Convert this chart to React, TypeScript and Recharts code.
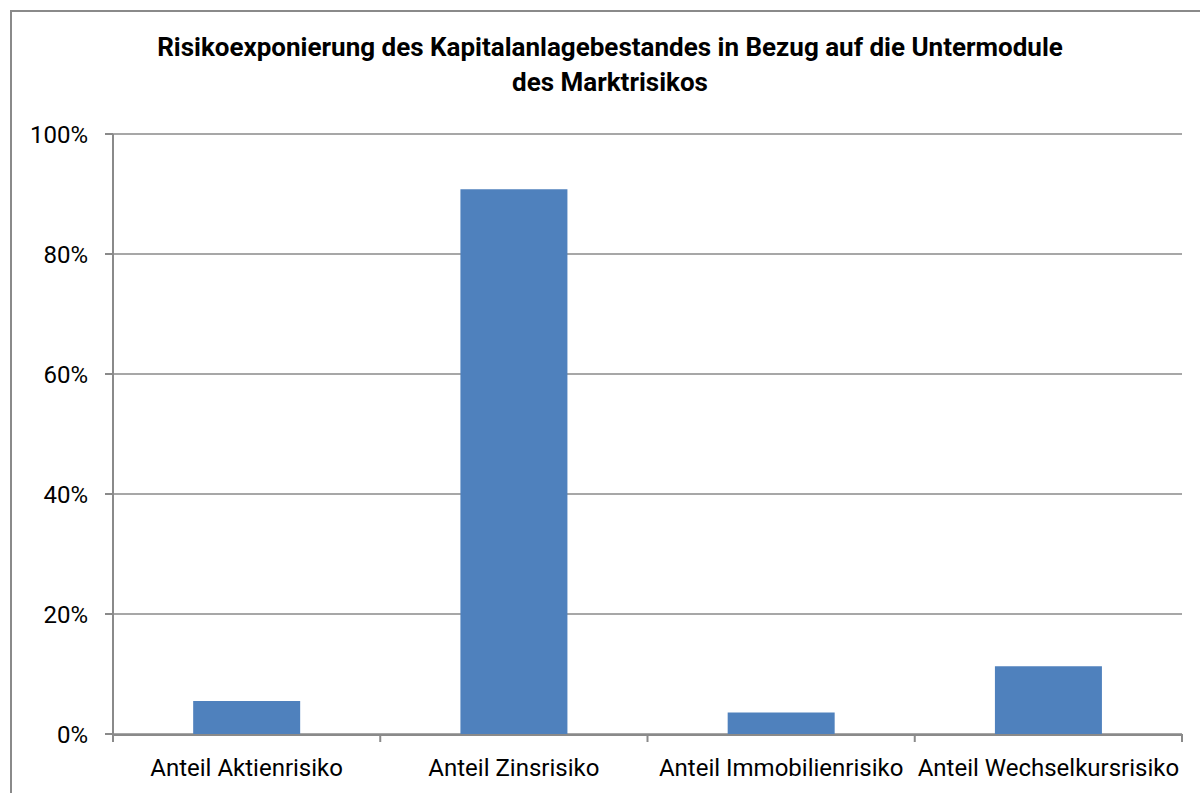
import { BarChart, Bar, XAxis, YAxis, CartesianGrid } from "recharts";

const categories = [
  "Anteil Aktienrisiko",
  "Anteil Zinsrisiko",
  "Anteil Immobilienrisiko",
  "Anteil Wechselkursrisiko",
];
const shares = [5.5, 90.8, 3.6, 11.3];
const yTicks = [0, 20, 40, 60, 80, 100];
const boundaryTicks = [0, 1, 2, 3, 4];

const FONT = "Roboto, 'Liberation Sans', sans-serif";
const GRAY = "#8a8a8a";
const BAR = "#4f81bd";

const data = categories.map((name, i) => ({ name, idx: i + 0.5, share: shares[i] }));

// category borders get a tick mark but no label
function EmptyTick() {
  return <g />;
}

export default function App() {
  return (
    <div style={{ position: "fixed", left: 0, top: 0, width: 1200, height: 793, background: "#fff", overflow: "hidden", fontFamily: FONT }}>
      <div
        style={{
          position: "absolute",
          left: 10,
          top: 10,
          width: 1200,
          height: 800,
          border: `2px solid ${GRAY}`,
        }}
      />
      <div
        style={{
          position: "absolute",
          left: 0,
          top: 30,
          width: 1220,
          textAlign: "center",
          fontWeight: 700,
          fontSize: 26,
          lineHeight: "35px",
          color: "#000",
        }}
      >
        Risikoexponierung des Kapitalanlagebestandes in Bezug auf die Untermodule
        <br />
        des Marktrisikos
      </div>
      <div style={{ position: "absolute", left: 0, top: 0 }}>
        <BarChart
          width={1200}
          height={793}
          data={data}
          margin={{ top: 134, right: 18, bottom: 0, left: 0 }}
          barCategoryGap="30%"
        >
          <CartesianGrid vertical={false} stroke={GRAY} strokeWidth={1.5} />
          <XAxis
            xAxisId="a_edge"
            type="number"
            dataKey="idx"
            domain={[0, 4]}
            ticks={boundaryTicks}
            height={1}
            tick={<EmptyTick />}
            tickSize={8}
            axisLine={false}
            tickLine={{ stroke: GRAY, strokeWidth: 2 }}
          />
          <XAxis
            xAxisId="b_cat"
            dataKey="name"
            height={58}
            interval={0}
            tickLine={false}
            tickSize={0}
            tickMargin={24}
            axisLine={{ stroke: GRAY, strokeWidth: 2 }}
            tick={{ fill: "#000", fontSize: 24, fontFamily: FONT }}
          />
          <YAxis
            domain={[0, 100]}
            ticks={yTicks}
            width={113}
            tickFormatter={(v) => `${v}%`}
            tickSize={8}
            tickMargin={17}
            axisLine={{ stroke: GRAY, strokeWidth: 2 }}
            tickLine={{ stroke: GRAY, strokeWidth: 2 }}
            tick={{ fill: "#000", fontSize: 24, fontFamily: FONT }}
          />
          <Bar xAxisId="b_cat" dataKey="share" fill={BAR} isAnimationActive={false} />
        </BarChart>
      </div>
    </div>
  );
}
